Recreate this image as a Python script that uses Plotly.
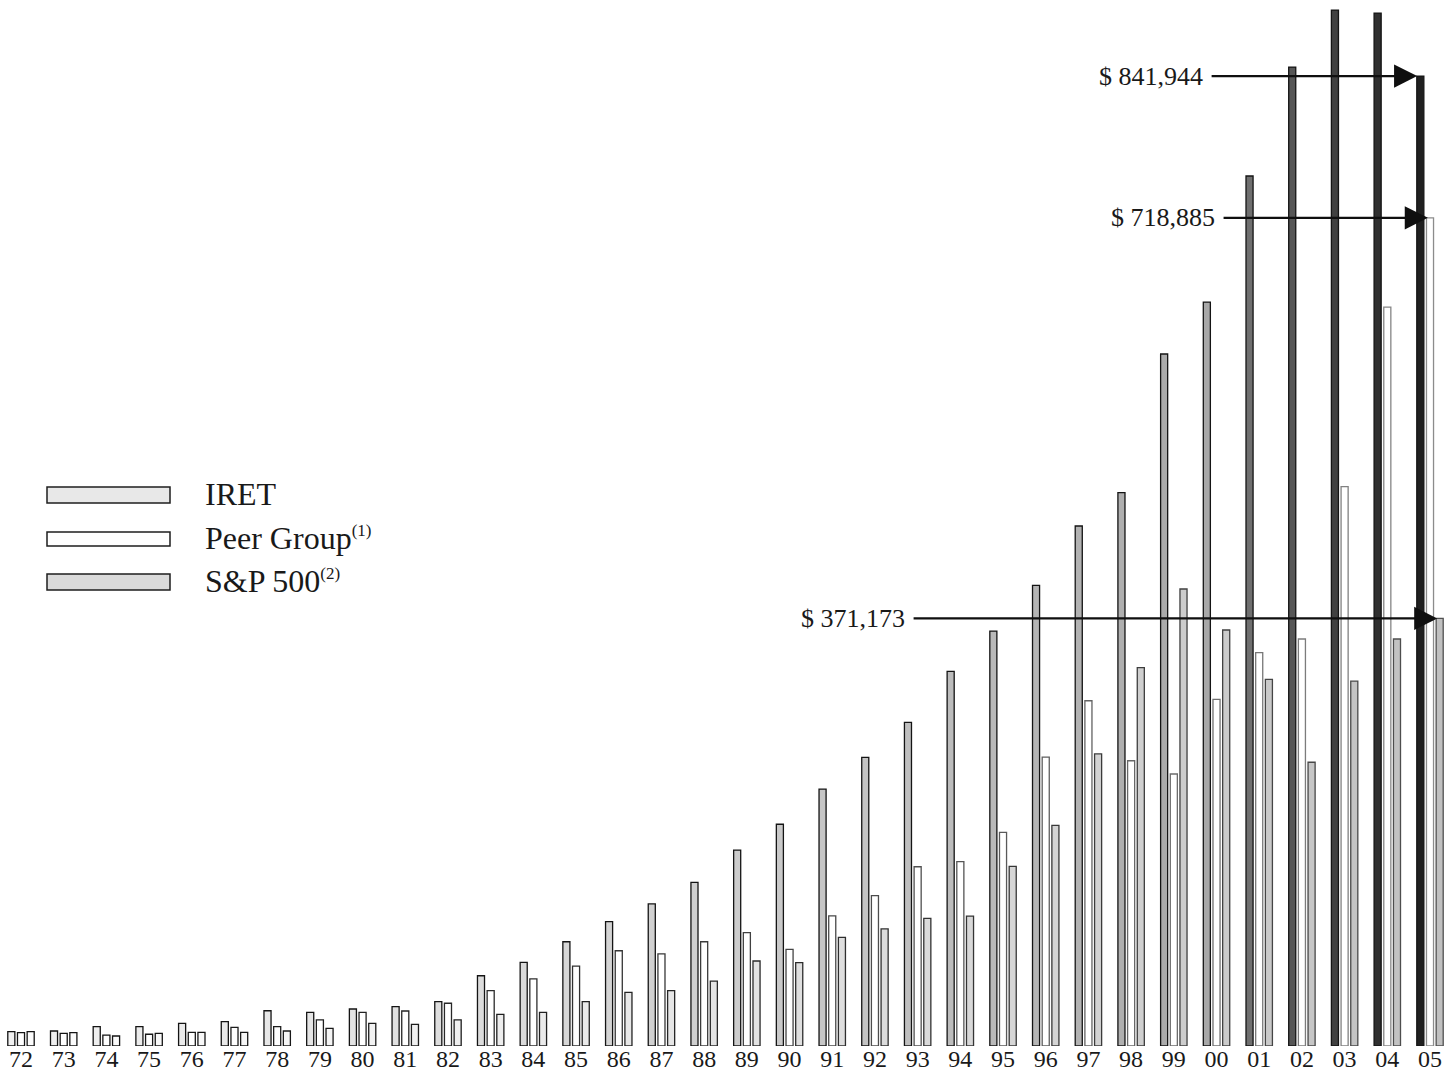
import plotly.graph_objects as go

years = ['72', '73', '74', '75', '76', '77', '78', '79', '80', '81', '82',
         '83', '84', '85', '86', '87', '88', '89', '90', '91', '92', '93',
         '94', '95', '96', '97', '98', '99', '00', '01', '02', '03', '04', '05']

iret = [12400, 13000, 16800, 16800, 19700, 21100, 30600, 29200, 32100, 34100, 38500,
        61000, 72600, 90500, 107900, 123300, 142100, 170100, 192500, 223000, 250500,
        280900, 325200, 360200, 399800, 451400, 480300, 600700, 645800, 755200,
        849800, 899200, 896600, 841944]

peer = [11600, 11000, 9500, 10200, 11900, 16200, 16800, 22600, 29200, 30400, 37100,
        48000, 58200, 69400, 82700, 79900, 90500, 98400, 83900, 113000, 130500,
        155600, 160000, 185500, 250700, 299700, 247600, 236100, 300900, 341400,
        353300, 485500, 641400, 718885]

sp500 = [12400, 11600, 8700, 11000, 11900, 11900, 13000, 15300, 19700, 18800, 22600,
         27500, 29200, 38500, 46600, 48000, 56400, 73800, 72300, 94300, 101600,
         110800, 112800, 155900, 191500, 253500, 328400, 396700, 361100, 318300,
         246300, 316800, 353300, 371173]

callouts = [("$ 841,944", 841944), ("$ 718,885", 718885), ("$ 371,173", 371173)]

FONT = "Liberation Serif"
W, H = 1445, 1080
BASE = 1046                # baseline row of the bars

n = len(years)


def gray(v):
    v = int(max(0, min(255, v)))
    return f"rgb({v},{v},{v})"


def iret_gray(i):
    if i <= 28:
        return 240 - 72 * (i / 28) ** 1.4
    return 160 - 128 * ((i - 28) / 5) ** 0.6


iret_fill = [gray(iret_gray(i)) for i in range(n)]
iret_line = [gray(20) for i in range(n)]
peer_fill = ["white"] * n
peer_line = [gray(20 + 120 * (i / (n - 1)) ** 1.5) for i in range(n)]
sp_fill = [gray(252 - 60 * (i / (n - 1)) ** 1.3) for i in range(n)]
sp_line = [gray(20 + 60 * (i / (n - 1)) ** 1.5) for i in range(n)]

fig = go.Figure()
fig.add_trace(go.Bar(x=years, y=iret, name="IRET",
                     marker=dict(color=iret_fill, line=dict(color=iret_line, width=1.3))))
fig.add_trace(go.Bar(x=years, y=peer, name="Peer Group",
                     marker=dict(color=peer_fill, line=dict(color=peer_line, width=1.3))))
fig.add_trace(go.Bar(x=years, y=sp500, name="S&P 500",
                     marker=dict(color=sp_fill, line=dict(color=sp_line, width=1.3))))


def pxx(px):
    return px / W


def pxy(py):
    return (BASE - py) / BASE


SUP = '<sup><span style="font-size:17px">{}</span></sup>'
legend_items = [
    ("IRET", "rgb(232,232,232)", 487, 503),
    ("Peer Group" + SUP.format("(1)"), "white", 532, 546),
    ("S&P 500" + SUP.format("(2)"), "rgb(218,218,218)", 574, 590),
]
shapes = []
annotations = []
for label, fill, y0, y1 in legend_items:
    shapes.append(dict(type="rect", xref="paper", yref="paper",
                       x0=pxx(47), x1=pxx(170), y0=pxy(y1), y1=pxy(y0),
                       fillcolor=fill, line=dict(color="rgb(30,30,30)", width=1.5)))
    annotations.append(dict(xref="paper", yref="paper",
                            x=pxx(203), y=pxy((y0 + y1) / 2 - 1),
                            xanchor="left", yanchor="middle", showarrow=False,
                            text=label, font=dict(family=FONT, size=32, color="rgb(25,25,25)")))

# callout arrows: (tail x, tip x) in category units
arrow_x = [(27.85, 32.70), (28.13, 32.95), (20.87, 33.17)]
for (txt, val), (tail, tip) in zip(callouts, arrow_x):
    annotations.append(dict(x=tip, y=val, ax=tail, ay=val, xref="x", yref="y",
                            axref="x", ayref="y", text="", showarrow=True,
                            arrowhead=2, arrowsize=2.1, arrowwidth=2.2,
                            arrowcolor="rgb(15,15,15)", standoff=0))
    annotations.append(dict(x=tail, y=val, xref="x", yref="y", text=txt,
                            showarrow=False, xanchor="right", yanchor="middle",
                            xshift=-5, font=dict(family=FONT, size=26, color="rgb(25,25,25)")))

# x range: category 0 centred at x 21 px, category 33 at x 1430 px
ppu = (1430 - 21) / 33.0
x0 = -21 / ppu
x1 = x0 + W / ppu

fig.update_layout(
    width=W, height=H,
    template="none",
    barmode="group", bargap=0.32, bargroupgap=0.27,
    margin=dict(l=0, r=0, t=0, b=H - BASE, pad=0),
    paper_bgcolor="white", plot_bgcolor="white",
    showlegend=False, hovermode=False,
    shapes=shapes, annotations=annotations,
    xaxis=dict(type="category", range=[x0, x1], showgrid=False,
               showline=False, zeroline=False, ticks="", automargin=False,
               ticklabelstandoff=-4,
               tickfont=dict(family=FONT, size=24, color="rgb(25,25,25)")),
    yaxis=dict(range=[0, BASE / 0.001152], visible=False, showgrid=False,
               automargin=False),
)

fig.write_html(
    "out.html",
    config={"displayModeBar": False},
    post_script=("document.body.style.margin='0';"
                 "document.body.style.overflow='hidden';"
                 "document.documentElement.style.overflow='hidden';"),
)
